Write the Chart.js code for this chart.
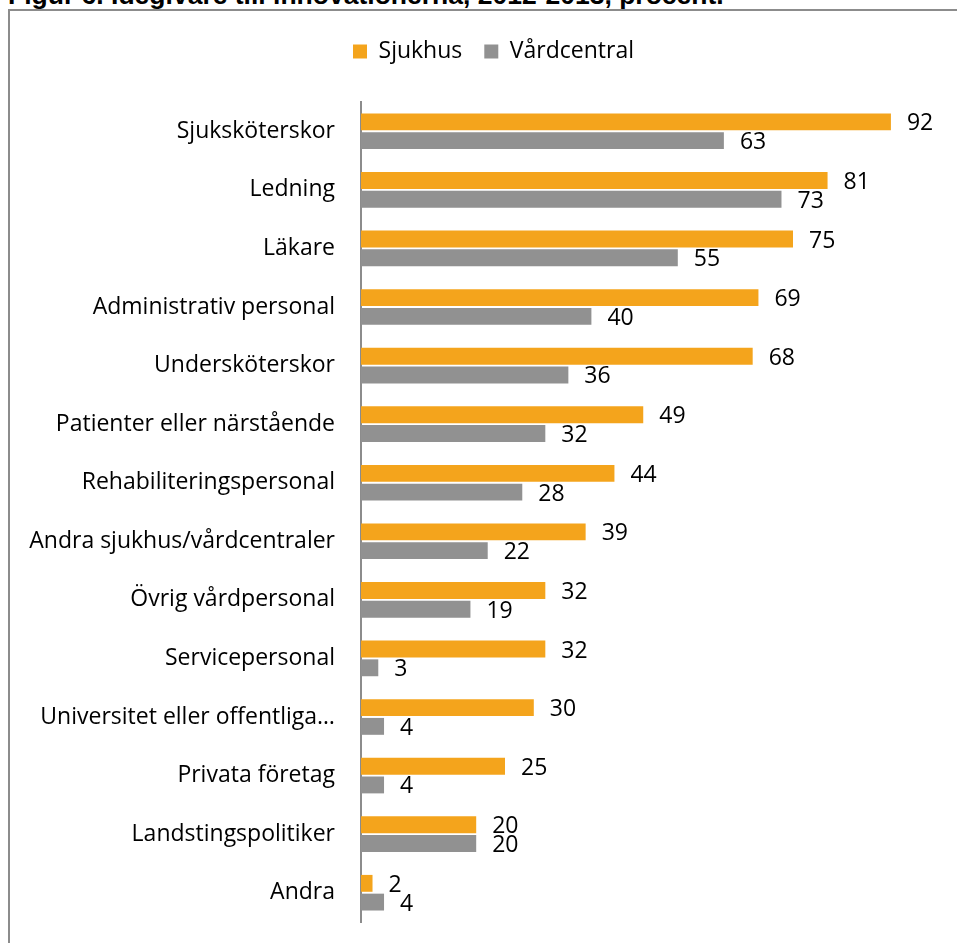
<!DOCTYPE html>
<html>
<head>
<meta charset="utf-8">
<script src="https://cdn.jsdelivr.net/npm/chart.js@4.4.1/dist/chart.umd.min.js"></script>
<style>
  html, body { margin: 0; padding: 0; background: #fff; overflow: hidden; }
  #rubrik {
    position: absolute; left: 8px; top: -18px; white-space: nowrap;
    font: bold 26.5px "Liberation Sans", Arial, sans-serif; line-height: 26.5px; color: #000;
  }
  #ram {
    position: absolute; left: 8px; top: 9px; width: 968px; height: 960px;
    border-left: 2px solid #8c8c8c; border-top: 2px solid #8c8c8c;
  }
</style>
</head>
<body>
<div id="rubrik">Figur 6. Idégivare till innovationerna, 2012-2013, procent.</div>
<div id="ram"><canvas id="stapel"></canvas></div>
<script>
// kategorier och värden (procent)
var kategorier = ['Sjuksköterskor', 'Ledning', 'Läkare', 'Administrativ personal', 'Undersköterskor',
  'Patienter eller närstående', 'Rehabiliteringspersonal', 'Andra sjukhus/vårdcentraler',
  'Övrig vårdpersonal', 'Servicepersonal', 'Universitet eller offentliga…', 'Privata företag',
  'Landstingspolitiker', 'Andra'];
var sjukhus = [92, 81, 75, 69, 68, 49, 44, 39, 32, 32, 30, 25, 20, 2];
var vardcentral = [63, 73, 55, 40, 36, 32, 28, 22, 19, 3, 4, 4, 20, 4];

var typsnitt = '"Open Sans", "Noto Sans", sans-serif';
var storlek = 23;

// skriver ut värdet till höger om varje stapel
var vardeEtiketter = {
  id: 'vardeEtiketter',
  afterDatasetsDraw: function(chart) {
    var ctx = chart.ctx;
    ctx.save();
    ctx.font = storlek + 'px ' + typsnitt;
    ctx.fillStyle = '#000';
    ctx.textAlign = 'left';
    ctx.textBaseline = 'middle';
    chart.data.datasets.forEach(function(ds, i) {
      var meta = chart.getDatasetMeta(i);
      meta.data.forEach(function(el, j) {
        ctx.fillText(ds.data[j], el.x + 16, el.y + 2);
      });
    });
    ctx.restore();
  }
};

// extra luft under förklaringen, och förklaringen centrerad över hela ramen
var legendLuft = {
  id: 'legendLuft',
  beforeLayout: function(chart) {
    var lg = chart.legend;
    if (lg && !lg._luft) {
      var fit = lg.fit;
      lg.fit = function() { fit.call(this); this.height += 29; };
      lg._luft = true;
    }
  },
  afterLayout: function(chart) {
    var lg = chart.legend;
    if (lg) { lg.right += 40; lg.width += 40; }
  }
};

new Chart(document.getElementById('stapel'), {
  type: 'bar',
  data: {
    labels: kategorier,
    datasets: [
      { label: 'Sjukhus', data: sjukhus, backgroundColor: '#F4A41C',
        categoryPercentage: 0.64, barPercentage: 0.9 },
      { label: 'Vårdcentral', data: vardcentral, backgroundColor: '#919191',
        categoryPercentage: 0.64, barPercentage: 0.9 }
    ]
  },
  options: {
    indexAxis: 'y',
    responsive: true,
    maintainAspectRatio: false,
    animation: false,
    layout: { padding: { top: 7, right: 41, bottom: 49, left: 0 } },
    plugins: {
      legend: {
        position: 'top',
        labels: {
          boxWidth: 14, boxHeight: 14, padding: 22, color: '#000',
          font: { size: storlek, family: typsnitt }
        }
      },
      tooltip: { enabled: false }
    },
    scales: {
      x: { display: false, min: 0, max: 100 },
      y: {
        grid: { display: false, drawTicks: false },
        border: { display: true, color: '#8c8c8c', width: 2 },
        ticks: { color: '#000', padding: 26, font: { size: storlek, family: typsnitt } },
        afterFit: function(scale) { scale.width = 351; }
      }
    }
  },
  plugins: [vardeEtiketter, legendLuft]
});
</script>
</body>
</html>
